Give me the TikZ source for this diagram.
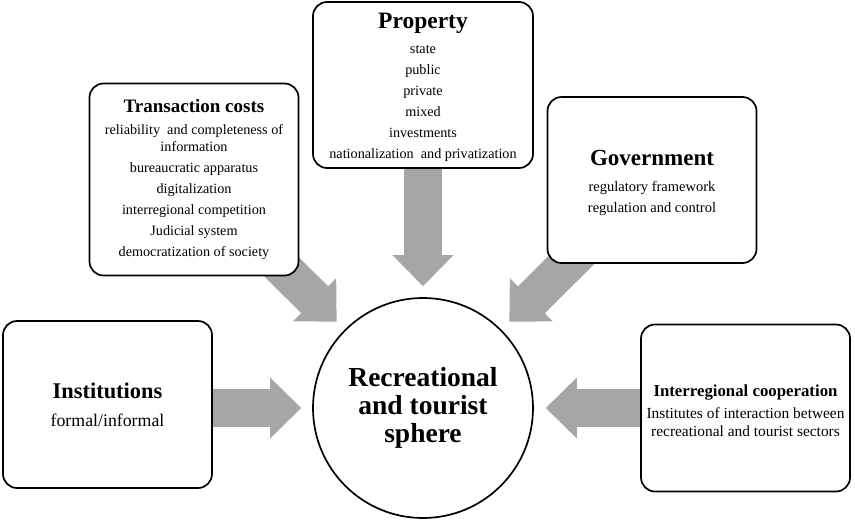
\documentclass[tikz,border=0pt]{standalone}
\usepackage{fontspec}
\setmainfont{Liberation Serif}
\usetikzlibrary{arrows.meta,calc,backgrounds}
\definecolor{arrowgray}{HTML}{A6A6A6}
\begin{document}
\begin{tikzpicture}[x=1pt,y=-1pt,
  box/.style={draw, line width=1.7pt, rounded corners=14pt, fill=white,
    align=center, inner sep=0pt, font=\fontsize{14.2}{17}\selectfont},
  bigarrow/.style={draw=arrowgray, line width=38pt,
    -{Triangle[length=31pt,width=61pt,line width=0pt]}}]
\useasboundingbox (0,0) rectangle (855,520);

\node[draw, circle, line width=1.7pt, minimum size=220pt, inner sep=0pt, align=center,
  font=\fontsize{27.5}{28}\selectfont\bfseries] (c) at (423,408)
  {Recreational\\and tourist\\sphere};

\node[box, minimum width=209pt, minimum height=192pt] (tc) at (194,179.5)
  {{\bfseries\fontsize{19}{17}\selectfont Transaction costs}\\[5pt]
   reliability~ and completeness of\\
   information\\[4pt]
   bureaucratic apparatus\\[4pt]
   digitalization\\[4pt]
   interregional competition\\[4pt]
   Judicial system\\[4pt]
   democratization of society};

\node[box, minimum width=220pt, minimum height=166pt] (prop) at (423,85)
  {{\bfseries\fontsize{23.5}{17}\selectfont\rule{0pt}{20pt}Property}\\[8pt]
   state\\[4pt]
   public\\[4pt]
   private\\[4pt]
   mixed\\[4pt]
   investments\\[4pt]
   nationalization~ and privatization};

\node[box, minimum width=209pt, minimum height=166pt,
  font=\fontsize{14.5}{17}\selectfont] (gov) at (652,180)
  {{\bfseries\fontsize{23}{17}\selectfont\rule{0pt}{22pt}Government}\\[9pt]
   regulatory framework\\[4pt]
   regulation and control};

\node[box, minimum width=209pt, minimum height=167pt] (inst) at (107.5,404.5)
  {{\bfseries\fontsize{22.4}{17}\selectfont Institutions}\\[11pt]
   {\fontsize{17.8}{17}\selectfont formal/informal}};

\node[box, minimum width=209pt, minimum height=167pt,
  font=\fontsize{15.4}{17}\selectfont] (ir) at (745.5,408)
  {{\bfseries\fontsize{16.8}{17}\selectfont\rule{0pt}{17.5pt}Interregional cooperation}\\[5pt]
   Institutes of interaction between\\[1pt]
   recreational and tourist sectors};

\coordinate (tctip) at ($(c.north west)+(-8,-8)$);
\coordinate (govtip) at ($(c.north east)+(8,-8)$);
\coordinate (proptip) at ($(c.north)+(0,-11)$);
\coordinate (insttip) at ($(c.west)+(-11,0)$);
\coordinate (irtip) at ($(c.east)+(12,0)$);

\begin{scope}[on background layer]
  \draw[bigarrow] (tc.center) -- (tctip);
  \draw[bigarrow] (gov.center) -- (govtip);
  \draw[bigarrow] (prop.south) -- (proptip);
  \draw[bigarrow] (inst.center |- c.west) -- (insttip);
  \draw[bigarrow] (ir.center |- c.east) -- (irtip);
\end{scope}
\end{tikzpicture}
\end{document}
